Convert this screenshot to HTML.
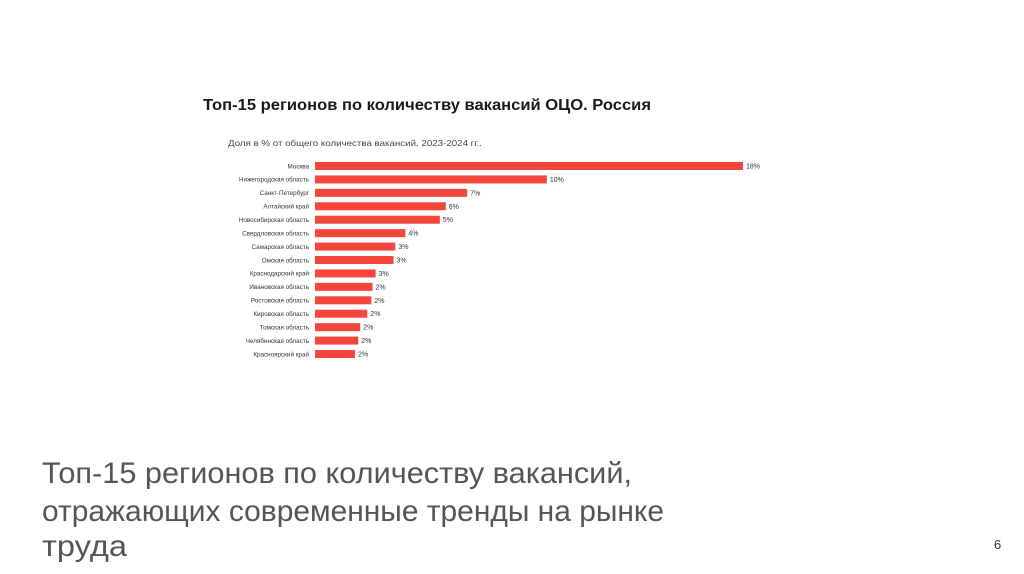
<!DOCTYPE html>
<html><head><meta charset="utf-8"><style>
html,body{margin:0;padding:0;background:#fff;}
svg{display:block;font-family:"Liberation Sans","Noto Sans CJK SC",sans-serif;}
</style></head><body>
<svg id="slide" width="1024" height="574" viewBox="0 0 1024 574">
<rect x="0" y="0" width="1024" height="574" fill="#fff"/>
<text x="203" y="110" font-size="15.5" font-weight="bold" fill="#1a1a1a" textLength="448" lengthAdjust="spacingAndGlyphs">Топ-15 регионов по количеству вакансий ОЦО. Россия</text>
<text x="228" y="146" font-size="8.5" fill="#444" textLength="254" lengthAdjust="spacingAndGlyphs">Доля в % от общего количества вакансий, 2023-2024 гг..</text>
<g id="bars"></g>
<text x="42" y="483" font-size="29.5" fill="#555" textLength="590" lengthAdjust="spacingAndGlyphs">Топ-15 регионов по количеству вакансий,</text>
<text x="42" y="521" font-size="29.5" fill="#555" textLength="622" lengthAdjust="spacingAndGlyphs">отражающих современные тренды на рынке</text>
<text x="42" y="556" font-size="29.5" fill="#555" textLength="85" lengthAdjust="spacingAndGlyphs">труда</text>
<text x="994" y="549" font-size="13" fill="#333">6</text>
</svg>
<script>
const categories = ["Москва","Нижегородская область","Санкт-Петербург","Алтайский край","Новосибирская область","Свердловская область","Самарская область","Омская область","Краснодарский край","Ивановская область","Ростовская область","Кировская область","Томская область","Челябинская область","Красноярский край"];
const values = [18, 9.75, 6.4, 5.5, 5.25, 3.8, 3.38, 3.3, 2.55, 2.42, 2.37, 2.2, 1.9, 1.82, 1.68];
const valueLabels = ["18%","10%","7%","6%","5%","4%","3%","3%","3%","2%","2%","2%","2%","2%","2%"];

const NS = "http://www.w3.org/2000/svg";
const g = document.getElementById("bars");
const x0 = 315, xScale = (743 - 315) / 18;
const y0 = 166, step = 13.43, barH = 8;
const xPos = v => x0 + v * xScale;
const yPos = i => y0 + i * step;

categories.forEach((c, i) => {
  const y = yPos(i);
  const lab = document.createElementNS(NS, "text");
  lab.setAttribute("x", 309);
  lab.setAttribute("y", y + 2.3);
  lab.setAttribute("text-anchor", "end");
  lab.setAttribute("font-size", "6.3");
  lab.setAttribute("fill", "#333");
  lab.textContent = c;
  
  
  g.appendChild(lab);

  const r = document.createElementNS(NS, "rect");
  r.setAttribute("x", x0);
  r.setAttribute("y", y - barH / 2);
  r.setAttribute("width", xPos(values[i]) - x0);
  r.setAttribute("height", barH);
  r.setAttribute("fill", "#f2473a");
  
  
  g.appendChild(r);

  const vl = document.createElementNS(NS, "text");
  vl.setAttribute("x", xPos(values[i]) + 3);
  vl.setAttribute("y", y + 2.5);
  vl.setAttribute("font-size", "7");
  vl.setAttribute("fill", "#333");
  vl.textContent = valueLabels[i];
  
  
  g.appendChild(vl);
});
</script>
</body></html>
